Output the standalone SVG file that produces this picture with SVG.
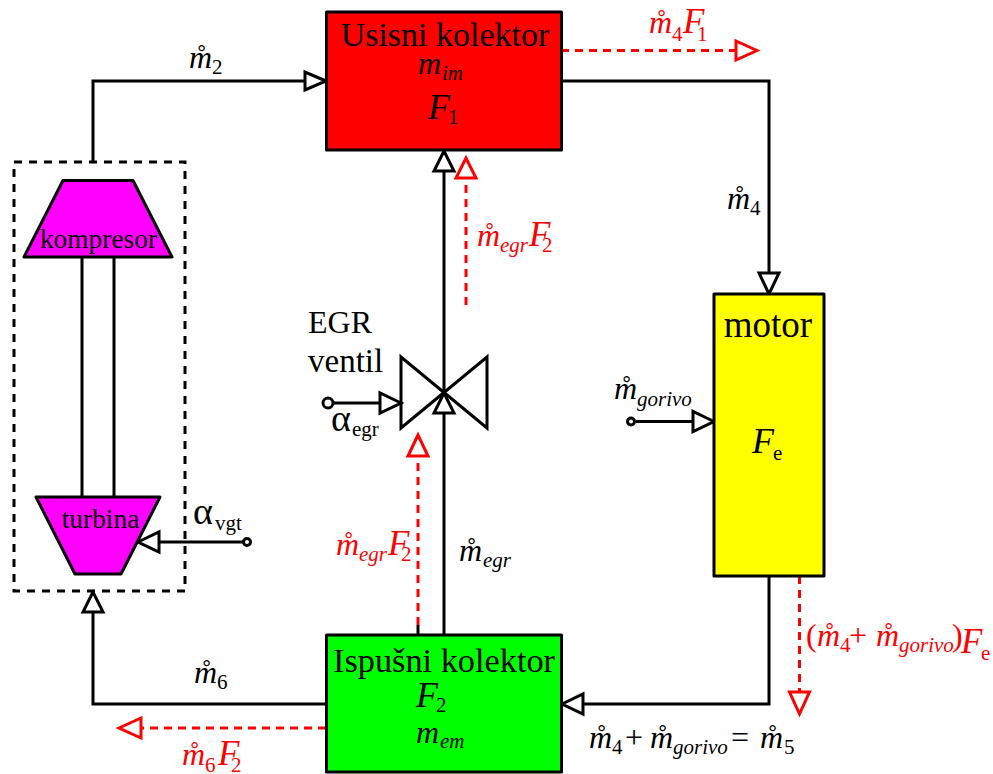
<svg xmlns="http://www.w3.org/2000/svg" width="993" height="774" viewBox="0 0 993 774">
<style>
text{font-family:"Liberation Serif","Times New Roman",serif;fill:#000;white-space:pre;font-size:32px}
.r{fill:#f00}
.i{font-style:italic}
.n{font-style:normal}
.s{font-size:21px}
.F{font-size:35px}
.blk{fill:none;stroke:#000;stroke-width:3;stroke-linejoin:miter}
.red{fill:none;stroke:#f00;stroke-width:3;stroke-dasharray:8 6}
.ah{fill:#fff;stroke:#000;stroke-width:3}
.ahr{fill:#fff;stroke:#f00;stroke-width:3}
.node{stroke:#000;stroke-width:3;stroke-linejoin:round}
.dot{fill:#fff;stroke:#000;stroke-width:3}
</style>
<g id="turbocharger-box"><rect x="14" y="162" width="171" height="429" fill="none" stroke="#000" stroke-width="3" stroke-dasharray="8 7"/></g>
<g id="connectors">
<path class="blk" d="M93 162V81H306"/>
<path class="blk" d="M561 81H769V273"/>
<path class="blk" d="M769 576V704H583"/>
<path class="blk" d="M326 704H93V612"/>
<path class="blk" d="M444 635V172"/>
<path class="blk" d="M82 257V497M114 257V497"/>
<path class="blk" d="M334 403H381"/>
<path class="blk" d="M636 421.500H694"/>
<path class="blk" d="M243 542H159"/>
<path class="red" d="M561 50.500H737"/>
<path class="red" d="M466 305V178"/>
<path class="red" d="M418 625V456"/>
<path class="blk" d="M418 635V625"/>
<path class="red" d="M799.500 576V692"/>
<path class="red" d="M326 728H141"/>
<polygon class="ah" points="326,81 305,72 305,90"/>
<polygon class="ah" points="769,294 759,273 779,273"/>
<polygon class="ah" points="562,704 583,694 583,714"/>
<polygon class="ah" points="93,592 83,612 103,612"/>
<polygon class="ah" points="444,151 434,171 454,171"/>
<polygon class="ah" points="401,403 380,393 380,413"/>
<polygon class="ah" points="714,421.500 693,411.500 693,431.500"/>
<polygon class="ah" points="138,542 159,532 159,552"/>
<polygon class="ahr" points="757,50.500 736,41 736,60"/>
<polygon class="ahr" points="466,158 456,178 476,178"/>
<polygon class="ahr" points="418,435 408,456 428,456"/>
<polygon class="ahr" points="799.500,714 789.500,692 809.500,692"/>
<polygon class="ahr" points="119,728 141,718 141,738"/>
</g>
<g id="usisni-kolektor">
<rect class="node" x="326.500" y="12" width="235" height="138" fill="#f00"/>
<text x="445" y="46" font-size="34" style="font-size:34px" text-anchor="middle">Usisni kolektor</text>
<text x="418" y="74" class="i">m<tspan class="s" x="442" y="80">im</tspan></text>
<text x="428" y="119" class="i F" style="font-size:36px">F<tspan class="s n" x="448" y="124">1</tspan></text>
</g>
<g id="ispusni-kolektor">
<rect class="node" x="326.500" y="635" width="235" height="137" fill="#0f0"/>
<text x="444" y="672" style="font-size:34.300px" text-anchor="middle">Ispušni kolektor</text>
<text x="416" y="707" class="i F" style="font-size:36px">F<tspan class="s n" x="436" y="712">2</tspan></text>
<text x="416" y="743" class="i">m<tspan class="s" x="440" y="748">em</tspan></text>
</g>
<g id="motor">
<rect class="node" x="714" y="294" width="110" height="282" fill="#ff0"/>
<text x="768" y="337" style="font-size:37px" text-anchor="middle">motor</text>
<text x="752" y="453" class="i F" style="font-size:36px">F<tspan class="s n" x="773" y="460">e</tspan></text>
</g>
<g id="kompresor">
<polygon class="node" points="63,180.500 133,180.500 172,257 24,257" fill="#f0f"/>
<text x="98.500" y="248" style="font-size:27.400px" text-anchor="middle">kompresor</text>
</g>
<g id="turbina">
<polygon class="node" points="36,497 160,497 121,574 75,574" fill="#f0f"/>
<text x="100.500" y="528" style="font-size:27.400px" text-anchor="middle">turbina</text>
</g>
<g id="egr-ventil">
<polygon class="blk" points="401,357 401,428 487,357 487,428"/>
<polygon class="ah" points="444,393 434,413 454,413"/>
<text x="308" y="333" style="font-size:32px">EGR</text>
<text x="308" y="372" style="font-size:33px">ventil</text>
</g>
<g id="alpha-egr"><circle class="dot" cx="328" cy="403" r="5"/><text x="331" y="431" style="font-size:38px">α<tspan class="s" x="352" y="436">egr</tspan></text></g>
<g id="alpha-vgt"><circle class="dot" cx="247" cy="542" r="3.500"/><text x="193" y="524" style="font-size:38px">α<tspan class="s" x="215" y="530">vgt</tspan></text></g>
<g id="gorivo"><circle class="dot" cx="631" cy="421.500" r="3.500"/><text x="614" y="399" class="i">m̊<tspan class="s" x="637" y="406">gorivo</tspan></text></g>
<g id="labels">
<text x="189" y="68" class="i">m̊<tspan class="s n" x="212" y="74">2</tspan></text>
<text x="727" y="209" class="i">m̊<tspan class="s n" x="750" y="215">4</tspan></text>
<text x="194" y="683" class="i">m̊<tspan class="s n" x="217" y="689">6</tspan></text>
<text x="459" y="561" class="i">m̊<tspan class="s" x="483" y="567">egr</tspan></text>
<text x="589" y="748" class="i">m̊<tspan class="s n" x="612" y="754">4</tspan><tspan class="n" x="625" y="748">+</tspan><tspan x="650" y="748">m̊</tspan><tspan class="s" x="673" y="754">gorivo</tspan><tspan class="n" x="731" y="748">=</tspan><tspan x="760" y="748">m̊</tspan><tspan class="s n" x="784" y="754">5</tspan></text>
<text class="i r" x="649" y="33">m̊<tspan class="s n" x="672" y="41">4</tspan><tspan class="F" x="683" y="33">F</tspan><tspan class="s n" x="697" y="41">1</tspan></text>
<text class="i r" x="477" y="246">m̊<tspan class="s" x="500" y="252">egr</tspan><tspan class="F" x="529" y="246">F</tspan><tspan class="s n" x="542" y="252">2</tspan></text>
<text class="i r" x="336" y="555">m̊<tspan class="s" x="359" y="561">egr</tspan><tspan class="F" x="388" y="555">F</tspan><tspan class="s n" x="401" y="561">2</tspan></text>
<text class="i r" x="182" y="765">m̊<tspan class="s n" x="205" y="772">6</tspan><tspan class="F" x="218" y="765">F</tspan><tspan class="s n" x="231" y="772">2</tspan></text>
<text class="r" x="806" y="646">(<tspan class="i" x="817" y="646">m̊</tspan><tspan class="s" x="840" y="652">4</tspan><tspan x="849" y="646">+</tspan><tspan class="i" x="876" y="646">m̊</tspan><tspan class="s i" x="899" y="652">gorivo</tspan><tspan x="952" y="646">)</tspan><tspan class="i F" x="961" y="653">F</tspan><tspan class="s" x="981" y="660">e</tspan></text>
</g>
</svg>
